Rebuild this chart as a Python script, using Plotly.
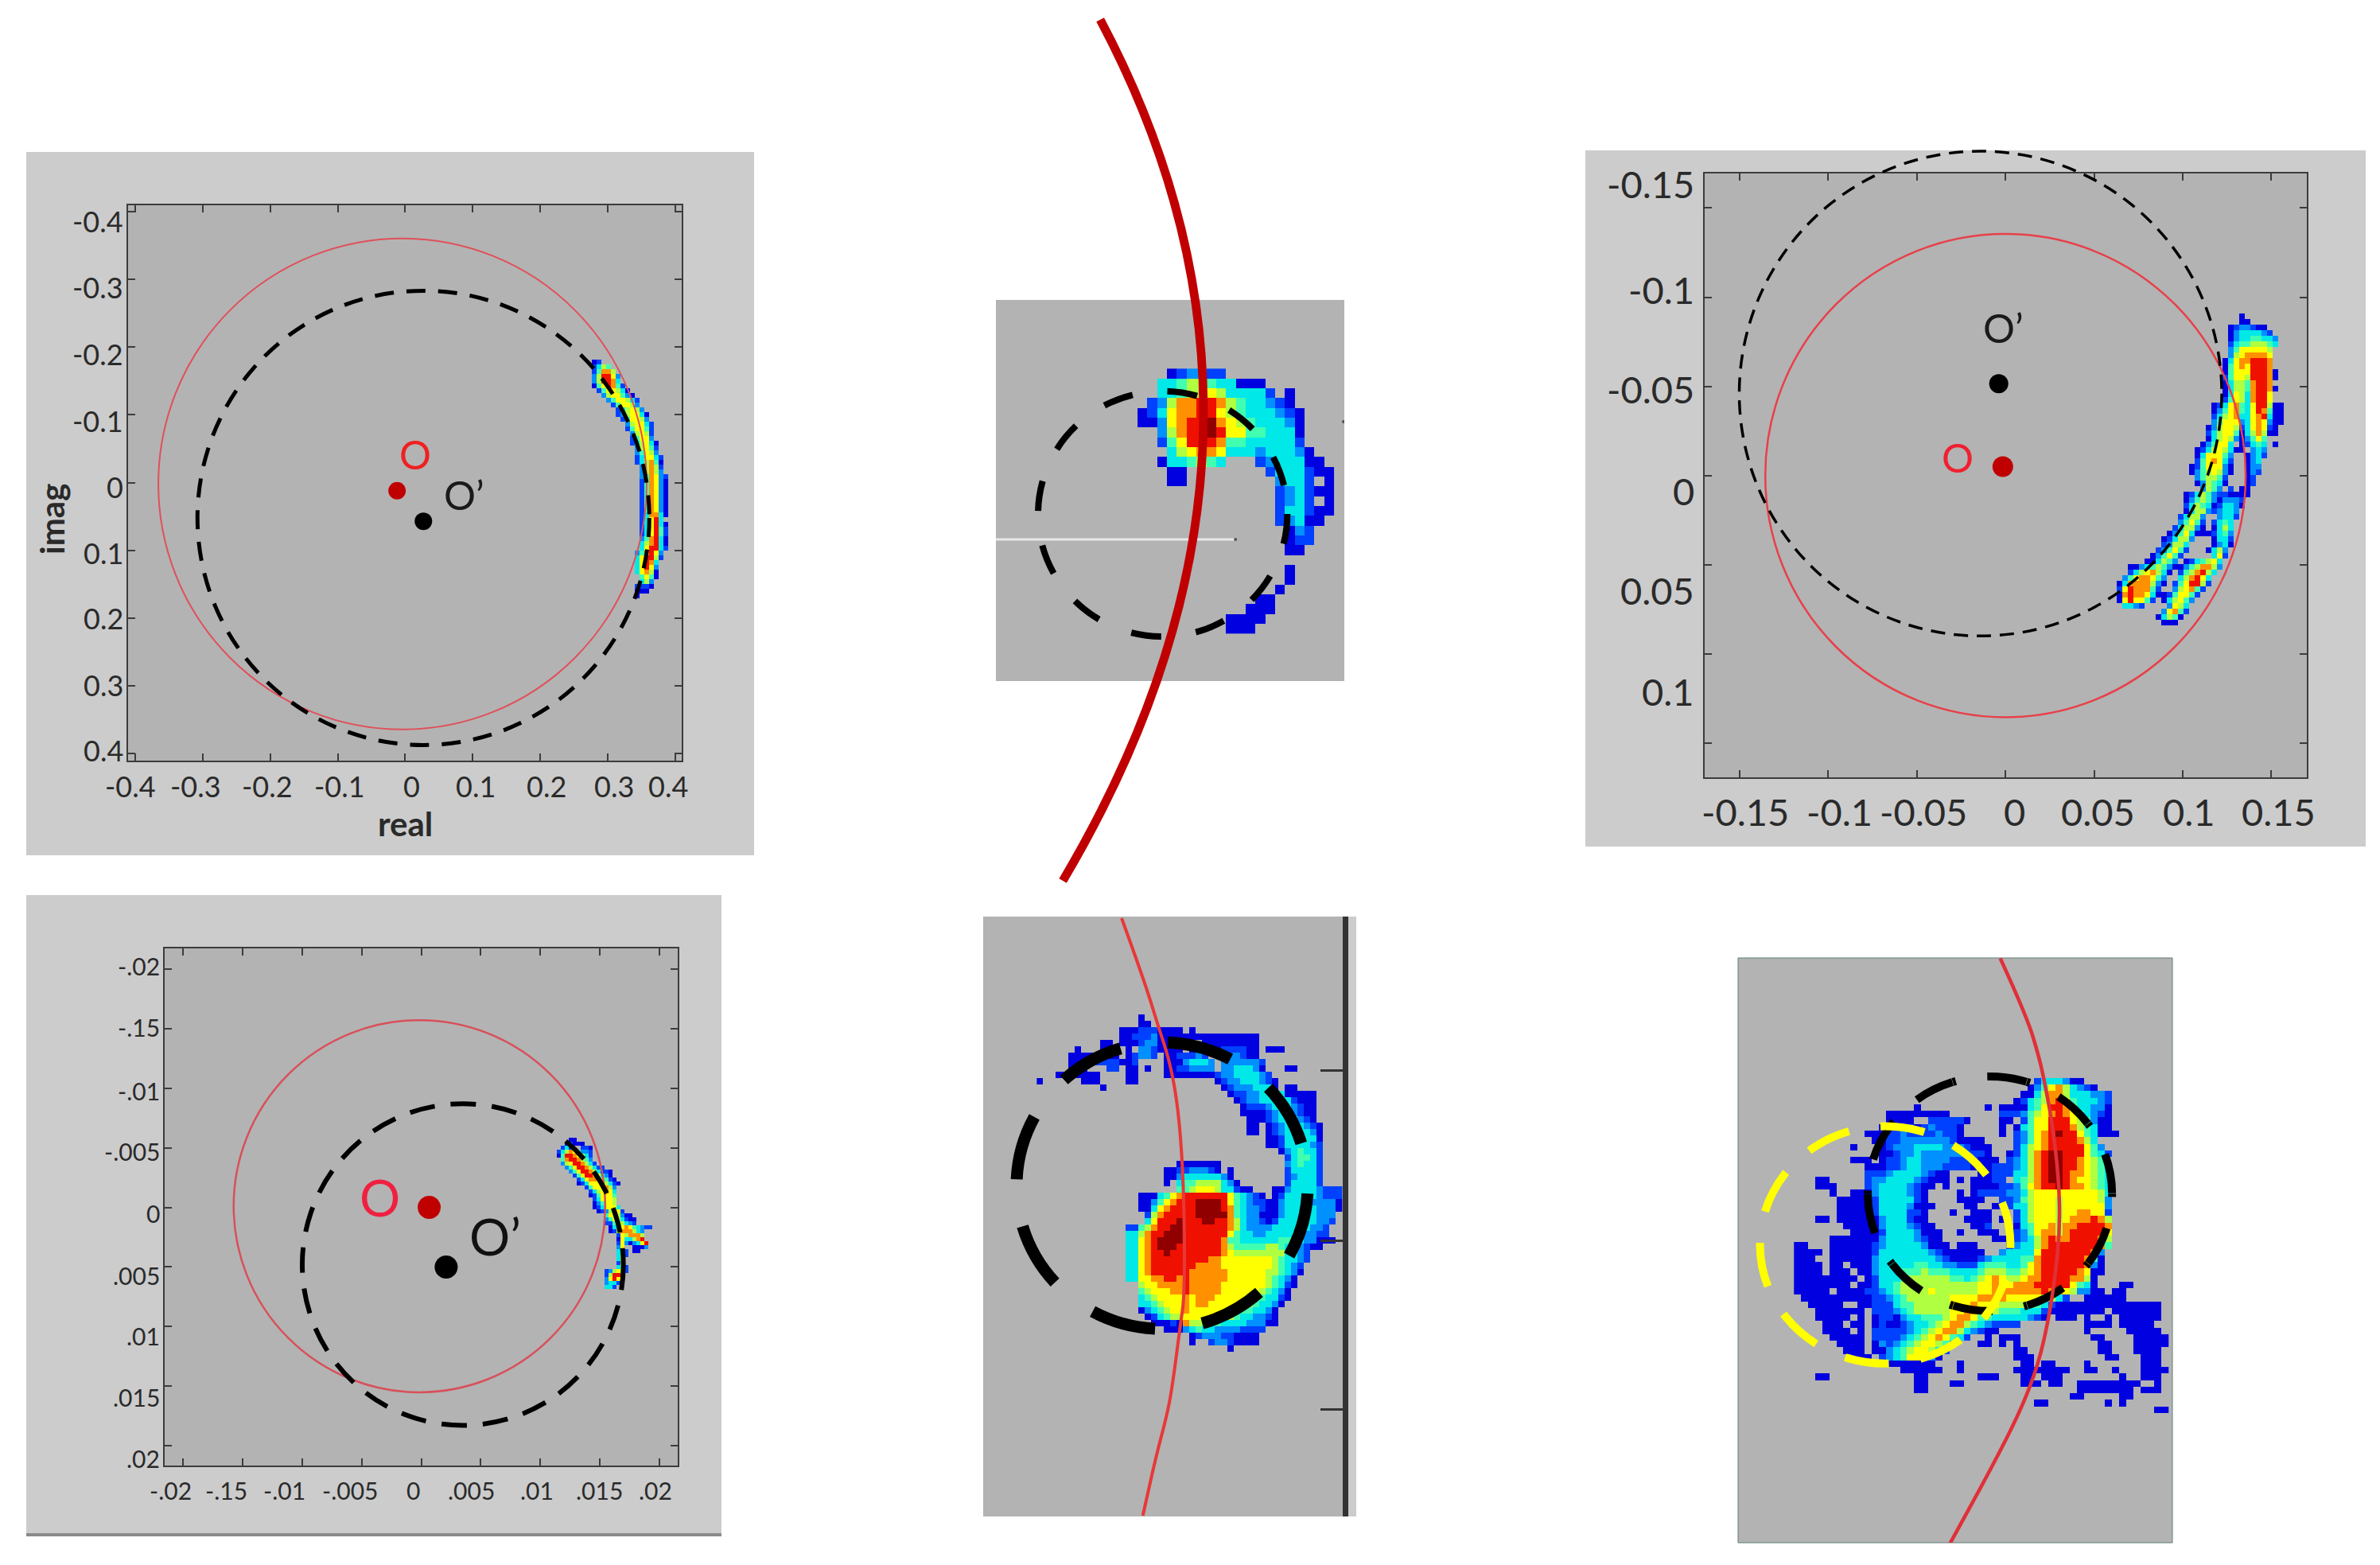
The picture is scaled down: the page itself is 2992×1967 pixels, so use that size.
import plotly.graph_objects as go

W, H = 2992, 1967
FONT = "Lato"
INK = "#2a2a2a"
PANEL = "#b3b3b3"
OUTER = "#cccccc"

# ---------- panel A (top left) ----------
a_ticks = [-0.4, -0.3, -0.2, -0.1, 0, 0.1, 0.2, 0.3, 0.4]
a_tick_text = ["-0.4", "-0.3", "-0.2", "-0.1", "0", "0.1", "0.2", "0.3", "0.4"]
a_xlabel_pos = [-0.407, -0.311, -0.204, -0.097, 0.009, 0.105, 0.209, 0.31, 0.39]
a_ylabel_pos = [-0.385, -0.288, -0.189, -0.091, 0.006, 0.104, 0.2, 0.298, 0.395]
a_red_circle = [-0.004, 0.002, 0.362]
a_black_circle = [0.027, 0.052, 0.335]
a_rows = [
 "", "", "4:01", "4:1354", "4:14775", "4:258862", "4:258873", "4:0468741", "5:146653 11:0", "6:2566420",
 "7:2466531", "8:146652", "9:135652", "9:1256630", "10:146652", "11:256631", "11:146641", "12:25651",
 "12:14662", "12:135630", "13:25641", "13:24652", "13:136631", "13:135740", "14:25751", "14:25752",
 "14:247621", "14:147620", "14:147620", "14:147620", "14:147620", "14:147620", "14:147620", "14:147620",
 "14:137730", "14:13683", "14:136830", "14:136841", "14:136841", "14:247830", "14:357830", "14:368831",
 "13:247862", "13:368851", "13:36873", "13:36862", "13:36750", "14:4640", "14:352", "13:1110", "13:000", "13:0",
]

# ---------- panel B (top centre) ----------
b_rows = [
 "3:012211",
 "2:33455433 10:000",
 "2:3345565 9:33331 15:0",
 "1:12577887 9:5433210",
 "0:0136778865433 13:3210",
 "0:00267889765433 14:320",
 "2:257889 8:8664 12:4 13:33 15:30",
 "2:14688 7:8744 11:33 13:3331",
 "3:356776 9:33 11:323 14:332 17:0",
 "2:033454 8:3 12:12 14:33 16:3 17:00",
 "3:00 13:1 14:33 16:3 17:100",
 "3:00 14:233 17:1 19:0",
 "14:1233 17:100",
 "14:123 17:1 19:0",
 "14:133 17:100",
 "14:123 17:00",
 "15:021",
 "15:011",
 "15:00",
 "",
 "15:0",
 "15:0",
 "14:0",
 "12:00",
 "11:000",
 "9:0000",
 "9:000",
]
b_circle = [-10.14, 2.3, 15.27, 27.3]
b_white_x = [-14.44, 9.98]
b_white_y = [17.41, 17.41]
b_specks_x = [9.98, 21.0]
b_specks_y = [17.41, 5.4]
b_arc = [(-3.81, -35.56), (11.76, -6.27), (9.73, 22.93), (-7.62, 52.2)]

# ---------- panel C (bottom left) ----------
c_ticks = [-0.02, -0.015, -0.01, -0.005, 0, 0.005, 0.01, 0.015, 0.02]
c_xtext = ["-.02", "-.15", "-.01", "-.005", "0", ".005", ".01", ".015", ".02"]
c_ytext = ["-.02", "-.15", "-.01", "-.005", "0", ".005", ".01", ".015", ".02"]
c_xlabel_pos = [-0.0211, -0.0164, -0.0115, -0.0060, -0.0007, 0.0042, 0.0097, 0.0150, 0.0197]
c_ylabel_pos = [-0.02025, -0.0151, -0.0098, -0.0047, 0.0005, 0.0057, 0.0108, 0.0159, 0.0211]
c_red_circle = [-0.00015, -0.0001, 0.01562]
c_black_circle = [0.0035, 0.0048, 0.0135]
c_rows = [
 "", "", "", "", "", "", "3:00", "2:01000", "1:131 6:110", "0:135764221", "0:048876531", "1:47887542",
 "1:256887531", "2:2468875311", "3:24688753110", "4:1468876320", "5:1367765410", "5:01366665310",
 "7:14666752", "8:1356763", "8:0146664", "9:136665", "9:024665", "9:0136663", "10:0125661", "12:4665200",
 "12:24653100", "12:11465321", "13:03667643211", "13:015777532", "15:1657775", "15:0633578",
 "15:16202368", "15:26 19:0002", "15:361 19:00", "15:361", "15:36", "15:15", "15:351", "12:125661",
 "12:15884", "12:2686", "12:2331", "12:331",
]

# ---------- panel D (top right) ----------
d_ticks = [-0.15, -0.1, -0.05, 0, 0.05, 0.1, 0.15]
d_text = ["-0.15", "-0.1", "-0.05", "0", "0.05", "0.1", "0.15"]
d_xlabel_pos = [-0.147, -0.0935, -0.0462, 0.0049, 0.0521, 0.1035, 0.1541]
d_ylabel_pos = [-0.1637, -0.1041, -0.0484, 0.0085, 0.0642, 0.1212, 0.1782]
d_red_circle = [0.0, 0.0, 0.1355]
d_black_circle = [-0.014, -0.046, 0.136]
d_rows = [
 "", "", "25:0", "25:00", "23:0122100", "23:02333321", "23:023344332", "23:134455543", "23:24666665", "23:25677776",
 "22:036778887", "22:046768887", "22:0466688870", "22:1466588870", "22:035547887", "22:0355478870", "22:036537886",
 "22:146537886", "20:013674368850 32:0", "20:024674 26:368740 32:0", "20:135673367830 32:0", "20:246662367620 32:0",
 "19:025665136 28:7610", "19:135664035 28:7500", "19:035652 25:02464", "18:02466 23:3 25:0134 29:3 31:0",
 "17:013565 23:30 25:0 27:232", "17:03666 22:42 26:0231", "17:14676 22:31 26:023", "16:014666 22:20 26:022",
 "16:024565 22:20 26:021", "17:24554 22:1 26:01", "17:025430 26:01", "18:2542 23:1 25:00", "15:0135421100 25:00",
 "15:02454 20:20 22:2221", "15:135430 21:13320", "15:0355212 22:332", "14:13552 21:2331", "14:24641 20:1343",
 "13:135520 20:0353", "12:0246300 19:01342", "11:013552 20:0331", "11:12553 20:023 23:0", "10:124641 19:0352",
 "9:024641 20:361", "8:00354 12:42 15:013456 21:3", "5:00234542 13:00245775 21:2", "5:13567530 14:145785 20:3",
 "4:24677642 14:357863", "3:0377775 10:20 13:146885 19:1", "3:16877741 13:2567 17:41", "3:078776 9:300 12:14664 17:1",
 "3:068664 9:1 11:0 12:35642", "4:33 6:21 12:2653", "11:26741", "10:03540", "11:000",
]

# ---------- panel E (bottom centre) ----------
e_rows = [
 "16:0", "16:00",
 "13:0001112 19:0000 24:0",
 "13:00111 18:2 19:000000 25:0000000000",
 "10:00 13:000 16:122 19:00000 26:0000000 33:00",
 "6:0 10:00 12:0 14:0 16:22 18:1 19:0000 24:0000 28:0111100 36:000",
 "5:0000 9:0000 14:01 16:22 18:1 20:00 22:11122 26:1 29:12 31:2 32:100",
 "5:000 8:01111 13:00 15:1 20:0 21:00 23:233 26:3 27:2 29:22 31:222 34:21",
 "5:000 11:11 14:00 17:0 20:00 22:11222 26:22 29:22 31:333 34:20 39:00",
 "3:00 6:0000 14:00 20:0 21:0000 25:000 28:1 29:22 31:33 33:33 35:21",
 "0:0 7:000 14:00 28:0 29:122333 35:210",
 "10:0 29:0 30:1222 34:33 36:30 39:00",
 "30:01122 35:33 37:33 39:00 41:000",
 "31:012 34:2 35:33 37:3 38:33 40:100 43:0",
 "32:01 34:11 36:2 37:3 38:3 39:3 40:2 41:100",
 "32:0 33:0 34:00 36:123 39:3 40:2 41:100",
 "33:0000 36:1233 40:3 41:210",
 "33:00 36:012333 42:210",
 "33:00 36:0123333 43:20",
 "36:00133333 44:0",
 "36:00133333 43:21",
 "38:023433 44:1",
 "39:134431",
 "22:0000000 39:2 40:34331",
 "20:00 22:112221 28:0 30:0 39:1 40:33331",
 "20:00 22:2333333 29:2 30:0 39:1 40:23331",
 "20:0 22:3445555 29:320 39:1 40:33331",
 "22:445666 28:5331 32:00 37:00 39:2 40:33332 45:111",
 "16:000 19:3 20:4 21:6 22:7 23:8 24:888888 30:6 31:4 32:321 35:0 37:0 38:1 39:33333 44:2 45:111",
 "16:00 18:2 19:4 20:6 21:7 22:8 23:8 24:899998 30:6 31:4 32:3 33:2 34:1100 38:233333 43:22220",
 "16:00 18:3 19:6 20:7 21:8 22:8 23:8 24:899998 30:7 31:4 32:3 33:2 34:21 36:00 38:233333 44:2220",
 "17:1 18:5 19:7 20:8 21:8 22:8 23:8 24:899999 30:7 31:4 32:3 33:2 34:2 35:000 38:233333 44:222",
 "17:3 18:6 19:8 20:8 21:8 22:9 23:8 24:889988 30:7 31:5 32:3 33:2 34:2 35:101 38:333333 44:221",
 "14:11 16:4 17:5 18:7 19:8 20:8 21:9 22:9 23:8 24:888888 30:7 31:5 32:3 33:2 34:222 37:3333333 43:221",
 "14:33 16:5 17:7 18:8 19:8 20:9 21:9 22:9 23:8 24:888888 30:6 31:4 32:33 34:22 36:333333 42:2211",
 "14:33 16:6 17:7 18:8 19:9 20:9 21:9 22:9 23:8 24:88888 29:7 30:44 32:3333 36:33 38:44 40:33 42:22 44:000",
 "14:33 16:6 17:7 18:8 19:9 20:9 21:9 22:8 23:8 24:88888 29:7 30:5 31:4444 35:455 38:4 39:33 41:2100",
 "14:33 16:6 17:7 18:8 19:8 20:9 21:8 22:8 23:8 24:88888 29:7 30:6 31:55555555 39:33 41:21",
 "14:33 16:6 17:7 18:8 19:8 20:8 21:8 22:8 23:8 24:888 27:77 29:66666666 37:5 38:4 39:33 41:21",
 "14:33 16:6 17:7 18:8 19:8 20:8 21:8 22:8 23:8 24:87 26:777 29:66666666 37:5 38:4 39:3 40:2 41:1",
 "14:33 16:6 17:7 18:8 19:8 20:8 21:8 22:8 23:8 24:777777 30:666666 36:55 38:4 39:3 40:2 41:0",
 "14:33 16:6 17:6 18:7 19:7 20:8 21:8 22:7 23:8 24:777777 30:666666 36:5 37:4 38:3 39:2 40:0",
 "16:5667777 23:8 24:77777 29:6666666 36:5 37:4 38:3 39:1 40:0",
 "16:4566677 23:8 24:77777 29:666666 35:5 36:4 37:3 38:2 39:0",
 "16:3456666 23:7 24:6777 28:666666 33:55 35:4 36:33 38:1 39:0",
 "16:3345666 23:7 24:677 27:66666 32:55 34:4 35:33 37:2 38:0",
 "16:0234566 23:7 24:6666666 31:5 32:44 34:33 36:2 37:0",
 "17:013455 23:666666 29:55 31:4 32:33 34:22 36:10",
 "18:00010 23:7 24:55 26:444 29:3333 33:222 36:00",
 "20:00 22:0234 26:33 28:2222 32:1111",
 "24:0122 28:211 31:0000",
 "24:0 27:1221 31:0000",
 "30:0",
]
e_circle = [-3.17, 4.4, 42.58, 49.4]
e_curve = [(13.33, -15.13), (16.8, -5.6), (19.1, 1.9), (20.75, 6.9), (22.0, 13.1), (22.8, 21.5), (23.2, 31.9),
           (23.2, 44.4), (22.6, 48.5), (21.3, 58.5), (20.42, 63.13), (18.75, 69.38), (16.67, 78.75)]
e_ticks = [8.75, 35.6, 62.06]

# ---------- panel F (bottom right) ----------
f_rows = [
 "34:1333200",
 "33:0 34:246753 40:210",
 "32:00 34:357753 40:33221",
 "31:013457864 40:33321",
 "17:0 27:0 29:0000 33:346887 39:53 41:3220",
 "13:00000 18:0000 29:111 32:2 33:4 34:5 35:6 36:7 37:8 38:7 39:6 40:4 41:3 42:210",
 "13:0000 19:111110 29:00 32:146 35:6 36:888 39:65 41:4 42:200",
 "12:00 14:1111 17:012111 23:0 29:0 31:0 32:34 34:66888 39:7 40:54 42:300",
 "10:00 12:0 13:11 15:2111 19:12 21:110 29:0 31:1 32:24 34:67898 39:8 40:64 42:3000",
 "11:00 13:112222 19:22 21:2100 25:00 31:1 32:24 34:678888 40:753",
 "8:0 12:0122 16:2333 20:3 21:222 24:1000 31:1 32:35 34:678888 40:8642",
 "12:001 15:2232222 22:22 24:1110 30:0 31:1 32:35 34:789988 40:86431",
 "8:00 10:0 12:011233 18:2222 22:11 24:1100 28:0 30:1 31:2 32:35 34:789988 40:76 42:54",
 "10:000 13:11233 18:222 21:1111 25:000 28:111 31:2 32:35 34:789988 40:76543",
 "10:11123333 18:2 19:100 26:00111 31:3 32:35 34:789987 40:76543",
 "3:00 10:1223333 17:210 20:00 23:0 25:000 28:11 31:3 32:45 34:789987 40:66543",
 "3:00 5:0 10:12333 15:3 16:210 19:0 21:0 25:000 28:0112 32:46 34:788 37:98 39:7 40:76543",
 "5:0 8:00 10:0233333 16:210 23:0 25:0111 29:1223 33:5 34:666 37:6 38:66 40:66 42:653",
 "6:00 8:000 11:1333 15:3 16:310 23:0000 29:1 30:124 33:56 35:66 37:5 38:6 39:66 41:6 42:652",
 "6:00 8:000 11:13333 16:200 19:0 24:00 28:011 31:33 33:566 36:6 37:5 38:6 39:666 42:662",
 "6:00 8:000 11:1 12:3333 16:110 22:0 25:000 31:1 32:3 33:5 34:66 36:6 37:5 38:66 40:77 42:661",
 "3:00 6:00 8:000 11:0 12:2333 16:100 24:0000 29:0 31:1 32:3 33:5 34:66 36:6 37:5 38:6 39:777 42:875",
 "7:00 9:000 11:0 12:2333 16:210 19:0 25:001 31:0 32:3 33:4 34:66 36:7 37:5 38:7 39:7 40:88887",
 "8:000 10:00 12:1333 16:3 17:200 20:0 23:0 26:000 30:0 31:1 32:2 33:4 34:6 35:7 36:7 37:5 38:7 39:888886",
 "5:000 8:00 10:00 12:2333 16:3 17:2100 28:00 30:0 31:1 32:2 33:3 34:5 35:7 36:8 37:7 38:7 39:888875",
 "0:00 5:0000 9:00 11:1233 15:3 16:33 18:2000 23:000 30:1 31:2 32:33 34:5 35:7 36:8 37:8 38:888888 43:74",
 "0:0000 5:0 6:00 8:00 10:0 11:133 14:33 16:333 19:2100 23:0000 29:2 30:3333 34:6 35:8 36:8 37:888888 42:72",
 "0:00 2:0 5:00 7:00 9:00 11:233 14:33 16:33333 20:21 22:0000 26:1233 30:33 32:44 34:7 35:888888 41:740",
 "0:00 2:00 5:00 8:00 10:0 11:233 14:3333 17:44 19:3322 23:111 26:3444 30:33 32:4 33:6 34:7 35:888888 41:720",
 "0:00 2:00 5:00 7:0 9:00 11:233 14:344 17:45 19:444 22:3333 26:4555 30:44 32:5 33:6 34:7 35:88888 40:7600",
 "0:00 2:000 5:00 7:00 10:0 11:1333 15:455 18:55555 22:44 24:3 25:4 26:5 27:6 28:7 29:6 30:55 32:6 33:77 35:8888 39:77 41:50",
 "0:000 3:00 5:000 9:00 11:1 12:33 14:4555555555 24:55 26:66 28:7 29:66 31:777 34:88888 39:6 40:43 42:0 46:00",
 "0:0000 4:0 6:000 8:00 10:11 12:2 13:3 14:455556 20:555555 26:66 28:777777 34:7 35:8 36:77 38:65 40:22 42:00 45:00",
 "1:000 3:000 6:000 8:00 10:0 11:11 13:2 14:3 15:4 16:555555 22:6666 26:7777 30:66666 35:55 37:31 41:000 44:000",
 "2:00 4:00 6:0 9:00 11:111 14:3 15:44 17:5 18:5 19:555 22:666 25:7 26:666 29:55 31:55 33:44 35:31 37:0000000000 47:0000 51:0",
 "3:000 6:000 8:00 11:111 14:2 15:3 16:4 17:5 18:5 19:555 22:66 24:77 26:6 27:55 29:444 32:33 34:31 36:0000000 43:0 45:000000 51:0",
 "3:000 6:00 9:0 11:0 12:11 14:0 15:2 16:33 18:44 20:4 21:5 22:6 23:77 25:6 26:44 28:33333 33:21 35:0 37:000 41:0 44:0 46:00000 51:0",
 "4:000 8:00 11:0 12:100 15:1233 19:4 20:5 21:6 22:77 24:5 25:4 26:32 28:1111 41:0000 46:00000",
 "4:00 6:00 9:0 11:11111 16:2345 20:6 21:77 23:532 26:100 41:0 47:00000",
 "5:00 7:000 11:1111 15:23456 20:7 21:6 22:431 27:0 29:000 42:00 48:00000",
 "6:00 8:00 11:0 12:212 15:34566 20:5 21:42 26:00 29:0 31:0 43:00 48:00000",
 "7:000 11:00 13:234 16:56653 21:1 31:00 43:00 48:0000",
 "8:000 12:12346 17:642 20:0 31:000 44:00 49:000",
 "13:00 15:0 16:0 17:000 23:0 32:00 35:00 41:0 49:000",
 "15:00 17:0000 23:0 31:0000 35:0000 41:00 45:0 49:0000",
 "3:00 17:00 26:000 32:00 35:0 36:00 46:0 49:000",
 "17:00 22:00 32:000 36:00 40:000000000 51:0",
 "17:00 40:00 42:000000 49:000",
 "39:00 46:00",
 "34:00 44:0 46:0",
 "51:00",
]
f_black_circle = [10.44, -0.24, 44.97, 35.5]
f_yellow_circle = [-4.8, 7.35, 30.6, 43.5]
f_curve = [(29.17, -18.24), (32.92, -9.41), (34.7, -3.0), (35.42, 0.59), (36.46, 6.47), (37.45, 15.29), (37.6, 23.2),
           (36.88, 30.59), (36.04, 36.47), (34.58, 43.53), (32.08, 50.59), (27.92, 59.41), (22.08, 70.88)]

LEVELS = ["#0000e0", "#0040ff", "#0090ff", "#00e8e8", "#40ffb0", "#b0ff40", "#ffff00", "#ff9000", "#f01000", "#900000"]
JET = [[i / 9, c] for i, c in enumerate(LEVELS)]


def px(x):
    return x / W


def py(y):
    return 1 - y / H


def grid(rows):
    ncols = 0
    parsed = []
    for row in rows:
        cells = []
        for token in row.split():
            col, chars = token.split(":")
            cells.append((int(col), chars))
            ncols = max(ncols, int(col) + len(chars))
        parsed.append(cells)
    z = []
    for cells in parsed:
        line_ = [None] * ncols
        for col, chars in cells:
            for i, ch in enumerate(chars):
                line_[col + i] = int(ch)
        z.append(line_)
    return z


fig = go.Figure()
layout_axes = {}
shapes = []
annotations = []


def axes(n, x_px, y_px, x_range, y_range, **kw):
    xname = "xaxis" if n == 1 else f"xaxis{n}"
    yname = "yaxis" if n == 1 else f"yaxis{n}"
    xa = dict(domain=[px(x_px[0]), px(x_px[1])], range=list(x_range), anchor=f"y{'' if n == 1 else n}",
              showgrid=False, zeroline=False, showticklabels=False, visible=False)
    ya = dict(domain=[py(y_px[1]), py(y_px[0])], range=[y_range[1], y_range[0]], anchor=f"x{'' if n == 1 else n}",
              showgrid=False, zeroline=False, showticklabels=False, visible=False)
    xa.update(kw.get("x", {}))
    ya.update(kw.get("y", {}))
    layout_axes[xname] = xa
    layout_axes[yname] = ya


def framed(ticks):
    return dict(visible=True, showline=True, linecolor="#3c3c3c", linewidth=2, mirror="allticks",
                ticks="inside", ticklen=9, tickwidth=2, tickcolor="#3c3c3c", tickvals=ticks)


def rect(x0, y0, x1, y1, color, line_color=None):
    shapes.append(dict(type="rect", xref="paper", yref="paper", layer="below", x0=px(x0), x1=px(x1), y0=py(y1), y1=py(y0),
                       fillcolor=color, line=dict(width=1 if line_color else 0, color=line_color or color)))


def circle(n, c, color, width, dash=None):
    ref = "" if n == 1 else n
    shapes.append(dict(type="circle", xref=f"x{ref}", yref=f"y{ref}", x0=c[0] - c[2], x1=c[0] + c[2], y0=c[1] - c[2], y1=c[1] + c[2],
                       line=dict(color=color, width=width, dash=dash or "solid")))


def ellipse(n, b, color, width, dash):
    shapes.append(dict(type="circle", xref=f"x{n}", yref=f"y{n}", x0=b[0], y0=b[1], x1=b[2], y1=b[3],
                       line=dict(color=color, width=width, dash=dash)))


def path(n, pts, color, width):
    # smooth the read-off points with quadratic segments between midpoints
    d = f"M{pts[0][0]},{pts[0][1]}"
    for a, b in zip(pts[1:-1], pts[2:]):
        d += f" Q{a[0]},{a[1]} {(a[0] + b[0]) / 2},{(a[1] + b[1]) / 2}"
    d += f" L{pts[-1][0]},{pts[-1][1]}"
    shapes.append(dict(type="path", xref=f"x{n}", yref=f"y{n}", path=d, line=dict(color=color, width=width)))


def line(n, xs, ys, color, width):
    ref = "" if n == 1 else n
    fig.add_trace(go.Scatter(x=xs, y=ys, xaxis=f"x{ref}", yaxis=f"y{ref}", mode="lines", hoverinfo="skip",
                             showlegend=False, line=dict(color=color, width=width)))


def dot(n, x, y, color, size):
    ref = "" if n == 1 else n
    fig.add_trace(go.Scatter(x=[x] if not isinstance(x, list) else x, y=[y] if not isinstance(y, list) else y,
                             xaxis=f"x{ref}", yaxis=f"y{ref}", mode="markers", hoverinfo="skip", showlegend=False,
                             marker=dict(color=color, size=size, line=dict(width=0))))


def heat(n, rows):
    fig.add_trace(go.Heatmap(z=grid(rows), x0=0.5, dx=1, y0=0.5, dy=1, xaxis=f"x{n}", yaxis=f"y{n}", zmin=0, zmax=9,
                             colorscale=JET, showscale=False, hoverinfo="skip", zsmooth=False))


def text(n, x, y, s, size, color):
    ref = "" if n == 1 else n
    annotations.append(dict(xref=f"x{ref}", yref=f"y{ref}", x=x, y=y, text=s, showarrow=False, xanchor="center", yanchor="middle",
                            font=dict(family=FONT, size=size, color=color)))


def xlabels(vals, labels, y_px, size, n=1):
    ref = "" if n == 1 else n
    for v, t in zip(vals, labels):
        annotations.append(dict(xref=f"x{ref}", yref="paper", x=v, y=py(y_px), text=t, showarrow=False, xanchor="center", yanchor="middle",
                                font=dict(family=FONT, size=size, color=INK)))


def ylabels(vals, labels, x_px, size, n=1):
    ref = "" if n == 1 else n
    for v, t in zip(vals, labels):
        annotations.append(dict(xref="paper", yref=f"y{ref}", x=px(x_px), y=v, text=t, showarrow=False, xanchor="right", yanchor="middle",
                                font=dict(family=FONT, size=size, color=INK)))


# outer backgrounds and plot faces
rect(33, 191, 948, 1075, OUTER)
rect(161, 258, 857, 956, PANEL)
rect(1993, 189, 2974, 1064, OUTER)
rect(2143, 218, 2900, 977, PANEL)
rect(33, 1125, 907, 1931, OUTER)
rect(33, 1927, 907, 1931, "#8a8a8a")
rect(207, 1192, 852, 1842, PANEL)
rect(1252, 377, 1690, 856, PANEL)
rect(1236, 1152, 1705, 1906, OUTER)
rect(1236, 1152, 1688, 1906, PANEL)
rect(2185, 1204, 2731, 1939, PANEL, "#5f7f78")

# A
axes(1, (161, 857), (258, 956), (-0.4109, 0.41), (-0.409, 0.410), x=framed(a_ticks), y=framed(a_ticks))
axes(9, (161, 857), (258, 956), (-93.17, 22.83), (-30.33, 86.0))
heat(9, a_rows)
dot(1, -0.012, 0.012, "#c00000", 22)
dot(1, 0.027, 0.057, "#000000", 22)
circle(1, a_red_circle, "#e0505a", 2)
circle(1, a_black_circle, "#000000", 5, "24px,16px")
text(1, 0.015, -0.042, "O", 50, "#f02020")
text(1, 0.087, 0.018, "O’", 50, "#1a1a1a")
xlabels(a_xlabel_pos, a_tick_text, 988, 36)
ylabels(a_ylabel_pos, a_tick_text, 157, 36)
annotations.append(dict(xref="paper", yref="paper", x=px(509), y=py(1035), text="<b>real</b>", showarrow=False,
                        xanchor="center", yanchor="middle", font=dict(family=FONT, size=42, color=INK)))
annotations.append(dict(xref="paper", yref="paper", x=px(65), y=py(653), text="<b>imag</b>", showarrow=False, textangle=-90,
                        xanchor="center", yanchor="middle", font=dict(family=FONT, size=42, color=INK)))

# B
axes(2, (1252, 1690), (377, 856), (-14.44, 21.08), (-7.0, 31.83))
heat(2, b_rows)
line(2, b_white_x, b_white_y, "#e8e8e8", 3)
dot(2, b_specks_x, b_specks_y, "#555555", 4)
ellipse(2, b_circle, "#000000", 8, "38px,44px")
axes(7, (0, W), (0, H), (-115.98, 126.67), (-37.57, 121.95))
c0, c1, c2, c3 = b_arc
shapes.append(dict(type="path", xref="x7", yref="y7", line=dict(color="#c00000", width=11),
                   path=f"M{c0[0]},{c0[1]} C{c1[0]},{c1[1]} {c2[0]},{c2[1]} {c3[0]},{c3[1]}"))

# C
axes(3, (207, 852), (1192, 1842), (-0.02157, 0.02157), (-0.02174, 0.02167), x=framed(c_ticks), y=framed(c_ticks))
axes(10, (207, 852), (1192, 1842), (-98.6, 30.4), (-41.6, 88.4))
heat(10, c_rows)
dot(3, 0.00067, 0.0, "#c00000", 29)
dot(3, 0.0021, 0.005, "#000000", 29)
circle(3, c_red_circle, "#d8505a", 2.5)
circle(3, c_black_circle, "#000000", 6, "32px,20px")
text(3, -0.0035, -0.0009, "O", 64, "#f02040")
text(3, 0.0062, 0.0024, "O’", 64, "#111111")
xlabels(c_xlabel_pos, c_xtext, 1873, 30, 3)
ylabels(c_ylabel_pos, c_ytext, 203, 30, 3)

# D
axes(4, (2143, 2900), (218, 977), (-0.1697, 0.170), (-0.1694, 0.1692), x=framed(d_ticks), y=framed(d_ticks))
axes(11, (2143, 2900), (218, 977), (-71.0, 37.14), (-23.14, 85.29))
heat(11, d_rows)
dot(4, -0.0038, -0.0515, "#000000", 24)
dot(4, -0.0015, -0.005, "#c00000", 26)
axes(8, (0, W), (0, H), (-2521 / 2230, (W - 2521) / 2230), (-597.7 / 2240, (H - 597.7) / 2240))
circle(4, d_red_circle, "#e8404a", 2.5)
circle(8, d_black_circle, "#000000", 3.5, "18px,11px")
text(4, -0.027, -0.01, "O", 50, "#f02030")
text(4, -0.001, -0.083, "O’", 50, "#1a1a1a")
xlabels(d_xlabel_pos, d_text, 1020, 47, 4)
ylabels(d_ylabel_pos, d_text, 2132, 47, 4)

# E
axes(5, (1236, 1688), (1152, 1906), (-8.42, 48.08), (-15.375, 78.875),
     y=dict(visible=True, side="right", showline=True, linecolor="#333333", linewidth=7, ticks="inside", ticklen=28, tickwidth=3,
            tickcolor="#333333", tickvals=e_ticks))
heat(5, e_rows)
ellipse(5, e_circle, "#000000", 15, "0px,10px,82px,50px")
path(5, e_curve, "#e83838", 4)

# F
axes(6, (2185, 2731), (1204, 1939), (-7.9, 53.5), (-18.3, 70.8))
heat(6, f_rows)
ellipse(6, f_black_circle, "#000000", 10, "4px,40px,50px,0.5px")
ellipse(6, f_yellow_circle, "#ffff00", 10, "4px,40px,52px,0px")
path(6, f_curve, "#e03038", 4.5)

fig.update_layout(width=W, height=H, margin=dict(l=0, r=0, t=0, b=0), paper_bgcolor="white", plot_bgcolor="rgba(0,0,0,0)",
                  showlegend=False, shapes=shapes, annotations=annotations, **layout_axes)
fig.write_html("out.html", config={"displayModeBar": False}, post_script="document.body.style.margin='0';")
